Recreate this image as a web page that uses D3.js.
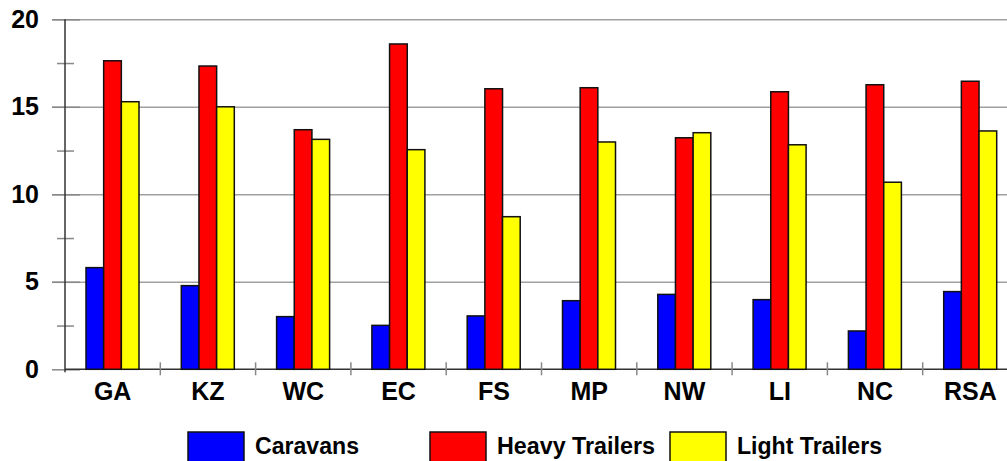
<!DOCTYPE html>
<html>
<head>
<meta charset="utf-8">
<script src="https://cdn.jsdelivr.net/npm/d3@7"></script>
<style>
  body { margin: 0; background: #fff; }
  svg { display: block; font-family: "Liberation Sans", Arial, sans-serif; }
</style>
</head>
<body>
<div id="chart"></div>
<script>
// data
const categories = ["GA", "KZ", "WC", "EC", "FS", "MP", "NW", "LI", "NC", "RSA"];
const seriesNames = ["Caravans", "Heavy Trailers", "Light Trailers"];
const seriesColors = ["#0000ff", "#ff0000", "#ffff00"];
const caravans = [5.81, 4.78, 3.01, 2.51, 3.05, 3.92, 4.28, 3.98, 2.19, 4.44];
const heavyTrailers = [17.63, 17.33, 13.69, 18.59, 16.03, 16.09, 13.23, 15.86, 16.26, 16.46];
const lightTrailers = [15.29, 15.0, 13.14, 12.55, 8.72, 12.99, 13.52, 12.83, 10.69, 13.62];
const majorTicks = [0, 5, 10, 15, 20];
const minorTicks = [2.5, 7.5, 12.5, 17.5];

const seriesValues = [caravans, heavyTrailers, lightTrailers];

const w = 1007;
const h = 461;
const plotLeft = 65;
const plotRight = 1018;   // plot runs a bit past the window, as in the reference
const plotTop = 19.3;
const plotBottom = 369.3;

const svg = d3.select("#chart")
  .append("svg")
  .attr("width", w)
  .attr("height", h);

const x = d3.scaleBand()
  .domain(categories)
  .range([plotLeft, plotRight]);

const xInner = d3.scaleBand()
  .domain(seriesNames)
  .range([21, 74]);

const y = d3.scaleLinear()
  .domain([0, 20])
  .range([plotBottom, plotTop]);

// gridlines
svg.append("g")
  .attr("transform", "translate(52,0)")
  .call(d3.axisLeft(y).tickValues(majorTicks.slice(1)).tickSize(-(w - 52)).tickFormat(""))
  .call(g => g.select(".domain").remove())
  .call(g => g.selectAll("line").attr("stroke", "#a0a0a0").attr("stroke-width", 1.5));

// major ticks (darker stub)
svg.append("g")
  .attr("transform", "translate(80,0)")
  .call(d3.axisLeft(y).tickValues(majorTicks).tickSize(28).tickFormat(""))
  .call(g => g.select(".domain").remove())
  .call(g => g.selectAll("line").attr("stroke", "#888").attr("stroke-width", 1.5));

// minor ticks
svg.append("g")
  .attr("transform", "translate(74,0)")
  .call(d3.axisLeft(y).tickValues(minorTicks).tickSize(17).tickFormat(""))
  .call(g => g.select(".domain").remove())
  .call(g => g.selectAll("line").attr("stroke", "#888").attr("stroke-width", 1.5));

// y labels
svg.append("g")
  .attr("transform", "translate(" + plotLeft + ",0)")
  .call(d3.axisLeft(y).tickValues(majorTicks).tickSize(0).tickPadding(26))
  .call(g => g.select(".domain").remove())
  .call(g => g.selectAll("text")
    .attr("font-size", 25)
    .attr("font-weight", "bold")
    .attr("font-family", "Liberation Sans, Arial, sans-serif")
    .attr("fill", "#000"));

// y axis line
svg.append("line")
  .attr("x1", plotLeft).attr("x2", plotLeft)
  .attr("y1", plotTop).attr("y2", plotBottom + 3)
  .attr("stroke", "#333")
  .attr("stroke-width", 1.5);

// x axis line
svg.append("line")
  .attr("x1", plotLeft).attr("x2", w)
  .attr("y1", plotBottom).attr("y2", plotBottom)
  .attr("stroke", "#333")
  .attr("stroke-width", 1.5);

// x ticks at category boundaries
svg.append("g")
  .selectAll("line")
  .data(categories.slice(1))
  .enter()
  .append("line")
  .attr("x1", d => x(d)).attr("x2", d => x(d))
  .attr("y1", plotBottom - 7).attr("y2", plotBottom + 6)
  .attr("stroke", "#888")
  .attr("stroke-width", 1.5);

// bars
const groups = svg.append("g")
  .selectAll("g")
  .data(categories)
  .enter()
  .append("g")
  .attr("transform", d => "translate(" + x(d) + ",0)");

groups.selectAll("rect")
  .data((d, i) => seriesNames.map((s, j) => ({ s: s, v: seriesValues[j][i], c: seriesColors[j] })))
  .enter()
  .append("rect")
  .attr("x", d => xInner(d.s))
  .attr("y", d => y(d.v))
  .attr("width", xInner.bandwidth())
  .attr("height", d => y(0) - y(d.v))
  .attr("fill", d => d.c)
  .attr("stroke", "#111")
  .attr("stroke-width", 1.5);

// x labels
svg.append("g")
  .attr("transform", "translate(0," + plotBottom + ")")
  .call(d3.axisBottom(x).tickSize(0).tickPadding(13))
  .call(g => g.select(".domain").remove())
  .call(g => g.selectAll("text")
    .attr("font-size", 25)
    .attr("font-weight", "bold")
    .attr("font-family", "Liberation Sans, Arial, sans-serif")
    .attr("fill", "#000"));

// legend
const legendX = [188, 430, 670];
const legendTextLen = [104, 158, 145];
const legend = svg.append("g")
  .selectAll("g")
  .data(seriesNames)
  .enter()
  .append("g")
  .attr("transform", (d, i) => "translate(" + legendX[i] + ",432)");

legend.append("rect")
  .attr("width", 56)
  .attr("height", 34)
  .attr("fill", (d, i) => seriesColors[i])
  .attr("stroke", "#111")
  .attr("stroke-width", 1.5);

legend.append("text")
  .attr("x", 67)
  .attr("y", 22)
  .attr("font-size", 23)
  .attr("font-weight", "bold")
  .attr("textLength", (d, i) => legendTextLen[i])
  .attr("lengthAdjust", "spacingAndGlyphs")
  .text(d => d);
</script>
</body>
</html>
